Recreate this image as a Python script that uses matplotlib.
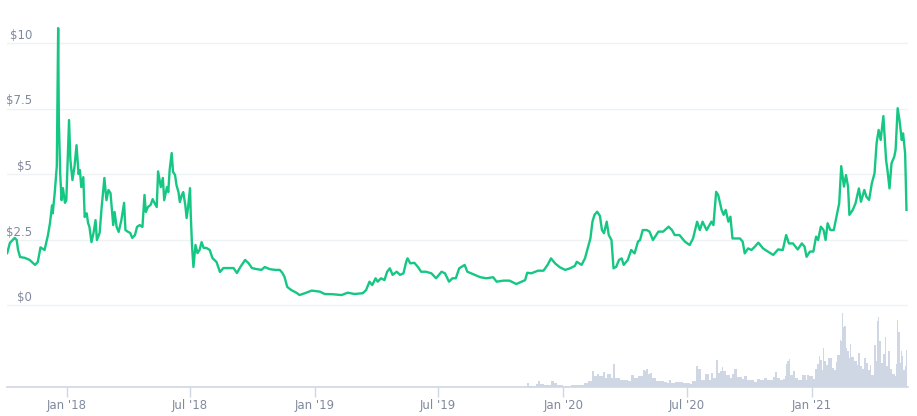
import matplotlib
matplotlib.use("Agg")
import matplotlib.pyplot as plt
import matplotlib.dates as mdates
import matplotlib.transforms as mtransforms
import numpy as np
import pandas as pd

price_dates = [
 "2017-10-05","2017-10-09","2017-10-16","2017-10-19","2017-10-21","2017-10-24","2017-10-31",
 "2017-11-07","2017-11-15","2017-11-19","2017-11-23","2017-11-29",
 "2017-12-04","2017-12-07","2017-12-10","2017-12-11","2017-12-14","2017-12-17","2017-12-19",
 "2017-12-20","2017-12-22","2017-12-24","2017-12-26","2017-12-29","2017-12-31",
 "2018-01-04","2018-01-06","2018-01-09","2018-01-12","2018-01-15","2018-01-18","2018-01-20",
 "2018-01-22","2018-01-25","2018-01-27","2018-01-30",
 "2018-02-01","2018-02-03","2018-02-06","2018-02-09","2018-02-12","2018-02-14","2018-02-18",
 "2018-02-21","2018-02-25","2018-02-28",
 "2018-03-03","2018-03-06","2018-03-10","2018-03-12","2018-03-15","2018-03-18","2018-03-22",
 "2018-03-26","2018-03-28",
 "2018-04-01","2018-04-04","2018-04-07","2018-04-11","2018-04-14","2018-04-18","2018-04-22",
 "2018-04-25","2018-04-27","2018-04-30",
 "2018-05-04","2018-05-07","2018-05-09","2018-05-13","2018-05-15","2018-05-19","2018-05-22",
 "2018-05-24","2018-05-28","2018-05-30",
 "2018-06-01","2018-06-04","2018-06-06","2018-06-09","2018-06-11","2018-06-14","2018-06-16",
 "2018-06-19","2018-06-21","2018-06-24","2018-06-26","2018-06-28",
 "2018-07-01","2018-07-02","2018-07-04","2018-07-06","2018-07-09","2018-07-12","2018-07-15",
 "2018-07-18","2018-07-21","2018-07-25","2018-07-30",
 "2018-08-03","2018-08-09","2018-08-14","2018-08-19","2018-08-26",
 "2018-09-03","2018-09-08","2018-09-13","2018-09-20","2018-09-25","2018-09-30",
 "2018-10-07","2018-10-14","2018-10-19","2018-10-26",
 "2018-11-03","2018-11-10","2018-11-14","2018-11-17","2018-11-21","2018-11-27",
 "2018-12-05","2018-12-09","2018-12-17","2018-12-27",
 "2019-01-08","2019-01-15","2019-01-27","2019-02-09","2019-02-18","2019-02-28",
 "2019-03-12","2019-03-17","2019-03-22","2019-03-26","2019-03-31",
 "2019-04-03","2019-04-08","2019-04-13","2019-04-17","2019-04-21","2019-04-25",
 "2019-05-01","2019-05-06","2019-05-11","2019-05-15","2019-05-17","2019-05-21","2019-05-27",
 "2019-06-01","2019-06-06","2019-06-13","2019-06-21","2019-06-28",
 "2019-07-06","2019-07-11","2019-07-17","2019-07-22","2019-07-27",
 "2019-08-01","2019-08-09","2019-08-13","2019-08-21",
 "2019-09-01","2019-09-10","2019-09-20","2019-09-25",
 "2019-10-05","2019-10-14","2019-10-24",
 "2019-11-01","2019-11-06","2019-11-09","2019-11-15","2019-11-25",
 "2019-12-03","2019-12-09","2019-12-14","2019-12-20","2019-12-27",
 "2020-01-04","2020-01-11","2020-01-18","2020-01-21","2020-01-28",
 "2020-02-02","2020-02-06","2020-02-10","2020-02-13","2020-02-16","2020-02-20","2020-02-24",
 "2020-02-27",
 "2020-03-01","2020-03-05","2020-03-08","2020-03-12","2020-03-15","2020-03-19","2020-03-23",
 "2020-03-27","2020-03-30",
 "2020-04-05","2020-04-10","2020-04-15","2020-04-20","2020-04-23","2020-04-27",
 "2020-05-03","2020-05-07","2020-05-12","2020-05-20","2020-05-27",
 "2020-06-04","2020-06-09","2020-06-13","2020-06-20","2020-06-28",
 "2020-07-05","2020-07-10","2020-07-16","2020-07-20","2020-07-24","2020-07-30",
 "2020-08-06","2020-08-09","2020-08-13","2020-08-16","2020-08-21","2020-08-24","2020-08-27",
 "2020-08-31",
 "2020-09-03","2020-09-06","2020-09-12","2020-09-17","2020-09-21","2020-09-24","2020-09-29",
 "2020-10-04","2020-10-09","2020-10-14","2020-10-21","2020-10-28",
 "2020-11-05","2020-11-12","2020-11-19","2020-11-24","2020-11-28",
 "2020-12-04","2020-12-11","2020-12-17","2020-12-21","2020-12-24","2020-12-29",
 "2021-01-03","2021-01-07","2021-01-10","2021-01-14","2021-01-18","2021-01-21","2021-01-24",
 "2021-01-28",
 "2021-02-02","2021-02-06","2021-02-10","2021-02-13","2021-02-17","2021-02-20","2021-02-23",
 "2021-02-25",
 "2021-03-02","2021-03-06","2021-03-11","2021-03-14","2021-03-19","2021-03-22","2021-03-26",
 "2021-03-30",
 "2021-04-03","2021-04-06","2021-04-09","2021-04-12","2021-04-16","2021-04-20","2021-04-22",
 "2021-04-25","2021-04-28",
 "2021-05-02","2021-05-04","2021-05-07","2021-05-10","2021-05-13","2021-05-15","2021-05-18",
 "2021-05-20",
]

price_values = [
 1.98,2.37,2.56,2.48,2.10,1.83,1.80,
 1.72,1.53,1.64,2.20,2.10,
 2.67,3.13,3.80,3.50,4.30,5.30,10.57,
 7.06,5.00,4.00,4.46,3.90,4.00,
 7.06,5.53,4.77,5.27,6.10,5.00,5.15,
 4.50,4.88,3.36,3.50,
 3.13,2.98,2.40,2.75,3.24,2.48,2.75,
 3.74,4.85,4.00,
 4.39,4.27,3.05,3.55,2.98,2.79,3.24,
 3.90,2.86,
 2.79,2.75,2.56,2.67,2.98,3.05,2.98,
 4.20,3.55,3.74,
 3.82,4.04,3.93,3.74,5.10,4.50,4.85,
 4.00,4.50,4.31,
 5.15,5.80,5.08,4.96,4.58,4.31,3.93,
 4.20,4.31,3.82,3.32,3.70,
 4.46,3.50,2.21,1.45,2.29,1.98,2.10,
 2.40,2.18,2.18,2.10,
 1.79,1.64,1.26,1.41,1.41,
 1.41,1.22,1.45,1.72,1.60,1.41,
 1.37,1.34,1.45,1.37,
 1.34,1.34,1.22,1.07,0.69,0.57,
 0.46,0.38,0.45,0.55,
 0.51,0.42,0.41,0.38,0.47,0.42,
 0.45,0.57,0.89,0.76,1.02,
 0.89,1.02,0.95,1.27,1.40,1.15,
 1.27,1.15,1.21,1.65,1.78,1.59,1.61,
 1.46,1.27,1.27,1.21,1.02,
 1.27,1.21,0.89,1.02,1.02,
 1.40,1.53,1.27,1.18,
 1.06,1.02,1.06,0.89,
 0.93,0.93,0.80,
 0.89,0.95,1.23,1.21,1.31,
 1.31,1.53,1.78,1.59,1.44,
 1.34,1.40,1.49,1.65,1.53,
 1.78,2.16,2.54,3.18,3.44,3.56,3.40,
 2.86,
 2.74,3.18,2.67,2.48,1.40,1.46,1.72,
 1.78,1.53,
 1.72,2.10,1.97,2.42,2.48,2.86,
 2.86,2.80,2.48,2.80,2.80,
 2.99,2.86,2.67,2.67,2.42,
 2.29,2.54,3.18,2.86,3.18,2.86,
 3.18,3.05,4.32,4.20,3.63,3.44,3.63,
 3.18,
 3.37,2.54,2.54,2.54,2.42,1.97,2.16,
 2.10,2.23,2.38,2.16,2.04,
 1.91,2.12,2.10,2.67,2.35,
 2.35,2.12,2.35,2.23,1.84,2.04,
 2.04,2.61,2.48,2.99,2.86,2.48,3.12,
 2.86,
 2.86,3.37,3.88,5.30,4.52,4.96,4.52,
 3.44,
 3.63,3.88,4.45,3.94,4.39,4.13,4.01,
 4.64,
 5.03,6.17,6.68,6.30,7.21,5.53,5.15,
 4.45,5.41,
 5.66,5.92,7.51,7.00,6.30,6.55,5.79,
 3.63,
]

vol_dates = [
 "2019-11-08","2019-11-09","2019-11-12","2019-11-18","2019-11-22","2019-11-25","2019-11-28",
 "2019-12-03","2019-12-09","2019-12-14","2019-12-19","2019-12-23","2019-12-31",
 "2020-01-07","2020-01-12","2020-01-20","2020-01-26",
 "2020-02-01","2020-02-07","2020-02-12","2020-02-13","2020-02-16","2020-02-19","2020-02-23",
 "2020-02-28",
 "2020-03-02","2020-03-06","2020-03-11","2020-03-14","2020-03-17","2020-03-21","2020-03-25",
 "2020-04-01","2020-04-05","2020-04-09","2020-04-14","2020-04-20","2020-04-23","2020-04-27",
 "2020-04-30",
 "2020-05-02","2020-05-05","2020-05-07","2020-05-10","2020-05-16","2020-05-22","2020-05-28",
 "2020-06-02","2020-06-04","2020-06-07","2020-06-13","2020-06-19","2020-06-25","2020-06-29",
 "2020-07-05","2020-07-09","2020-07-14","2020-07-15","2020-07-17","2020-07-18","2020-07-22",
 "2020-07-27","2020-07-28",
 "2020-08-02","2020-08-05","2020-08-08","2020-08-13","2020-08-14","2020-08-16","2020-08-19",
 "2020-08-21","2020-08-23","2020-08-27",
 "2020-09-02","2020-09-05","2020-09-08","2020-09-13","2020-09-17","2020-09-20","2020-09-23",
 "2020-09-27",
 "2020-10-03","2020-10-08","2020-10-12","2020-10-17","2020-10-22","2020-10-27",
 "2020-11-02","2020-11-05","2020-11-08","2020-11-11","2020-11-15","2020-11-19","2020-11-22",
 "2020-11-24","2020-11-25","2020-11-28","2020-11-30",
 "2020-12-04","2020-12-07","2020-12-11","2020-12-17","2020-12-18","2020-12-23","2020-12-25",
 "2020-12-28",
 "2021-01-02","2021-01-06","2021-01-09","2021-01-11","2021-01-13","2021-01-15","2021-01-17",
 "2021-01-18","2021-01-21","2021-01-24","2021-01-25","2021-01-30",
 "2021-02-02","2021-02-06","2021-02-07","2021-02-11","2021-02-12","2021-02-14","2021-02-15",
 "2021-02-17","2021-02-20","2021-02-21","2021-02-24","2021-02-26","2021-02-28",
 "2021-03-04","2021-03-08","2021-03-09","2021-03-12","2021-03-16","2021-03-19","2021-03-22",
 "2021-03-24","2021-03-28","2021-03-29",
 "2021-04-02","2021-04-05","2021-04-06","2021-04-08","2021-04-09","2021-04-12","2021-04-13",
 "2021-04-15","2021-04-18","2021-04-19","2021-04-20","2021-04-23","2021-04-26","2021-04-29",
 "2021-05-02","2021-05-03","2021-05-05","2021-05-06","2021-05-08","2021-05-10","2021-05-12",
 "2021-05-13","2021-05-15","2021-05-18","2021-05-19",
]

vol_values = [
 0.5,4.0,1.0,1.5,3.5,5.7,3.0,
 2.0,2.5,5.7,4.0,2.0,1.0,
 1.0,2.0,2.0,2.0,
 4.0,5.7,9.0,16.0,10.7,13.0,10.7,
 15.0,
 9.0,13.0,9.0,23.0,9.0,9.0,7.0,
 7.0,5.7,12.3,9.0,11.3,10.7,17.0,
 15.7,
 18.3,13.0,14.0,9.0,6.3,6.3,5.0,
 4.0,7.3,4.0,5.0,5.5,4.5,4.0,
 3.0,5.7,7.3,20.7,10.0,18.0,7.3,
 7.3,13.3,
 6.7,14.0,9.0,27.3,26.7,14.0,15.7,
 19.7,15.7,12.3,
 9.0,13.3,18.3,10.0,10.0,8.3,11.3,
 7.3,
 7.3,5.0,8.3,7.3,9.0,7.3,
 7.3,10.0,15.0,9.0,7.3,8.0,10.7,
 23.0,25.7,28.3,12.3,
 15.7,9.0,6.7,8.3,12.3,7.3,11.7,
 10.7,
 8.3,18.3,23.0,30.7,27.3,17.3,39.0,
 25.7,22.3,49.0,29.0,19.0,
 17.3,25.0,32.3,47.3,45.7,74.0,59.7,
 60.7,39.0,35.7,29.0,43.0,29.7,
 25.7,22.3,34.0,20.7,18.0,29.0,24.0,
 17.3,22.3,11.7,
 42.3,25.7,65.7,69.7,46.3,43.0,24.0,
 33.0,58.3,49.7,20.7,35.7,18.3,13.0,
 13.0,10.7,23.0,67.3,55.0,24.0,35.7,
 30.7,17.3,20.7,37.3,
]

x_tick_dates = ["2018-01-01","2018-07-01","2019-01-01","2019-07-01",
                "2020-01-01","2020-07-01","2021-01-01"]
x_tick_labels = ["Jan '18","Jul '18","Jan '19","Jul '19","Jan '20","Jul '20","Jan '21"]
y_ticks = [0, 2.5, 5, 7.5, 10]
y_tick_labels = ["$0", "$2.5", "$5", "$7.5", "$10"]

W, H = 917, 416
fig = plt.figure(figsize=(W/100, H/100), dpi=100)
fig.patch.set_facecolor("white")

left_px, right_px, top_px, bottom_px = 7, 908, 0, 387
ax_pos = [left_px/W, (H-bottom_px)/H, (right_px-left_px)/W, (bottom_px-top_px)/H]

axv = fig.add_axes(ax_pos)
ax = fig.add_axes(ax_pos, sharex=axv)
ax.patch.set_alpha(0)

pd_dates = pd.to_datetime(price_dates)
vd = pd.to_datetime(vol_dates)
vnum = mdates.date2num(vd)
widths = np.append(np.diff(vnum), 1.5)

axv.bar(vnum, vol_values, width=widths, align="edge", color="#cfd6e4", linewidth=0)
axv.set_ylim(0, max(vol_values) * 387 / 74)
axv.set_yticks([])
for s in ["top", "right", "left"]:
    axv.spines[s].set_visible(False)
axv.spines["bottom"].set_color("#cfd6e4")
axv.spines["bottom"].set_linewidth(1.2)

# price axis: $0 at px 305, $10 at px 43
per = (305 - 43) / 10.0
ax.set_ylim(-(bottom_px - 305) / per, (305 - top_px) / per)
for v in y_ticks:
    ax.axhline(v, color="#eff2f5", lw=1.0, zorder=0)
ax.plot(mdates.date2num(pd_dates), price_values, color="#16c784", lw=1.7,
        solid_joinstyle="round", zorder=3)

trans = mtransforms.blended_transform_factory(ax.transAxes, ax.transData)
off = mtransforms.offset_copy(trans, fig=fig, x=0, y=1, units="dots")
for v, lab in zip(y_ticks, y_tick_labels):
    ax.text((32 - left_px) / (right_px - left_px), v, lab, transform=off,
            ha="right", va="bottom", fontsize=8.5, color="#808a9d", zorder=4)

ax.set_yticks([])
for s in ax.spines.values():
    s.set_visible(False)
ax.tick_params(axis="x", bottom=False, labelbottom=False)

xt = mdates.date2num(pd.to_datetime(x_tick_dates))
axv.set_xticks(xt)
axv.set_xticklabels(x_tick_labels)
axv.tick_params(axis="x", length=7, width=1, color="#cfd6e4", labelsize=8.5,
                labelcolor="#808a9d", pad=2)

x0 = mdates.date2num(pd.Timestamp("2018-01-01")) - (67 - left_px) / (745 / 1096)
x1 = mdates.date2num(pd.Timestamp("2021-01-01")) + (right_px - 812) / (745 / 1096)
axv.set_xlim(x0, x1)

fig.savefig("out.png", dpi=100, facecolor="white")
